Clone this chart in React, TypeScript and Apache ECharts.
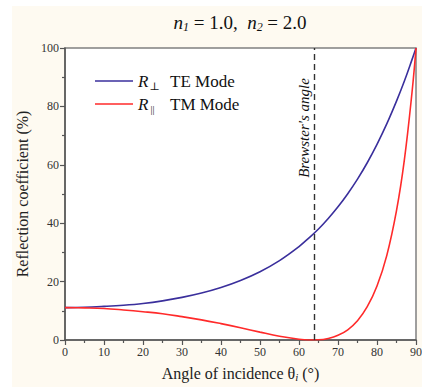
import React, { useEffect, useRef } from "react";
import * as echarts from "echarts";

// Angle of incidence (degrees)
const angles = [0, 5, 10, 15, 20, 25, 30, 35, 40, 45, 50, 55, 60, 62.5, 65, 67.5, 70, 72.5, 75, 77.5, 80, 82.5, 85, 87, 89, 90];
// Reflection coefficient (%) – TE mode (R perpendicular)
const teValues = [11.1, 11.2, 11.5, 11.9, 12.5, 13.4, 14.6, 16.1, 18.0, 20.4, 23.4, 27.2, 32.0, 34.9, 38.0, 41.6, 45.6, 50.1, 55.1, 60.7, 67.0, 74.0, 81.8, 88.6, 96.1, 100];
// Reflection coefficient (%) – TM mode (R parallel)
const tmValues = [11.1, 11.0, 10.8, 10.3, 9.7, 9.0, 8.0, 6.9, 5.6, 4.2, 2.7, 1.3, 0.27, 0.02, 0.07, 0.54, 1.6, 3.5, 6.6, 11.4, 18.5, 28.9, 44.3, 61.5, 85.1, 100];
const brewsterAngle = 64;
const legendNames = ["TE Mode", "TM Mode"];

const SERIF = "'Liberation Serif', 'DejaVu Serif', serif";
const TE_COLOR = "#3a2f9c";
const TM_COLOR = "#ff2a2a";

export default function App() {
  const ref = useRef<HTMLDivElement>(null);
  useEffect(() => {
    if (!ref.current) return;
    const chart = echarts.init(ref.current, undefined, { renderer: "svg" });
    const te = angles.map((a, i) => [a, teValues[i]]);
    const tm = angles.map((a, i) => [a, tmValues[i]]);
    const axisCommon = {
      axisLine: { show: true, lineStyle: { color: "#555", width: 1.5 } },
      axisTick: { show: true, inside: false, length: 5, lineStyle: { color: "#555", width: 1.2 } },
      minorTick: { show: true, splitNumber: 2, length: 3, lineStyle: { color: "#555", width: 1.2 } },
      splitLine: { show: false },
      axisLabel: { color: "#333", fontFamily: SERIF, fontSize: 12, margin: 6 },
    };
    chart.setOption({
      animation: false,
      backgroundColor: "transparent",
      grid: {
        left: 65,
        top: 48,
        right: 6,
        bottom: 47,
        outerBoundsMode: "none",
        containLabel: false,
        show: true,
        backgroundColor: "#ffffff",
        borderColor: "#808080",
        borderWidth: 1.5,
      },
      xAxis: {
        type: "value",
        min: 0,
        max: 90,
        interval: 10,
        ...axisCommon,
        name: "{t|Angle of incidence θ}{s|i}{t| (°)}",
        nameLocation: "middle",
        nameGap: 25,
        nameTextStyle: {
          rich: {
            t: { fontFamily: SERIF, fontSize: 16, color: "#222" },
            s: { fontFamily: SERIF, fontSize: 11, fontStyle: "italic", color: "#222", padding: [6, 0, 0, 0] },
          },
        },
      },
      yAxis: {
        type: "value",
        min: 0,
        max: 100,
        interval: 20,
        ...axisCommon,
        name: "Reflection coefficient (%)",
        nameLocation: "middle",
        nameGap: 33,
        nameTextStyle: { fontFamily: SERIF, fontSize: 16, color: "#222" },
      },
      series: [
        {
          name: legendNames[0],
          type: "line",
          data: te,
          smooth: 0.4,
          showSymbol: false,
          lineStyle: { color: TE_COLOR, width: 1.6 },
          z: 3,
        },
        {
          name: legendNames[1],
          type: "line",
          data: tm,
          smooth: 0.4,
          showSymbol: false,
          lineStyle: { color: TM_COLOR, width: 1.6 },
          z: 4,
          markLine: {
            silent: true,
            symbol: "none",
            label: { show: false },
            lineStyle: { color: "#333", type: [6, 4], width: 1.4 },
            data: [{ xAxis: brewsterAngle }],
          },
        },
      ],
      graphic: [
        {
          type: "text",
          x: 240,
          y: 22,
          style: {
            text: "{i|n}{s|1}{t| = 1.0,  }{i|n}{s|2}{t| = 2.0}",
            align: "center",
            verticalAlign: "middle",
            rich: {
              i: { fontFamily: SERIF, fontSize: 19, fontStyle: "italic", fill: "#111" },
              s: { fontFamily: SERIF, fontSize: 12, fontStyle: "italic", fill: "#111", padding: [9, 0, 0, 0] },
              t: { fontFamily: SERIF, fontSize: 19, fill: "#111" },
            },
          },
        },
        {
          type: "line",
          shape: { x1: 95, y1: 81, x2: 133, y2: 81 },
          style: { stroke: TE_COLOR, lineWidth: 1.6 },
        },
        {
          type: "line",
          shape: { x1: 95, y1: 104, x2: 133, y2: 104 },
          style: { stroke: TM_COLOR, lineWidth: 1.6 },
        },
        {
          type: "text",
          x: 138,
          y: 81,
          style: {
            text: "{i|R}{s|⊥}",
            verticalAlign: "middle",
            rich: {
              i: { fontFamily: SERIF, fontSize: 17, fontStyle: "italic", fill: "#111" },
              s: { fontFamily: SERIF, fontSize: 11, fill: "#111", padding: [10, 0, 0, 1] },
            },
          },
        },
        {
          type: "text",
          x: 138,
          y: 104,
          style: {
            text: "{i|R}{s|||}",
            verticalAlign: "middle",
            rich: {
              i: { fontFamily: SERIF, fontSize: 17, fontStyle: "italic", fill: "#111" },
              s: { fontFamily: SERIF, fontSize: 10, fill: "#111", padding: [10, 0, 0, 2] },
            },
          },
        },
        {
          type: "text",
          x: 170,
          y: 81,
          style: { text: legendNames[0], fontFamily: SERIF, fontSize: 17, fill: "#111", verticalAlign: "middle" },
        },
        {
          type: "text",
          x: 170,
          y: 104,
          style: { text: legendNames[1], fontFamily: SERIF, fontSize: 17, fill: "#111", verticalAlign: "middle" },
        },
        {
          type: "text",
          x: 304,
          y: 128,
          rotation: Math.PI / 2,
          style: {
            text: "Brewster's angle",
            fontFamily: SERIF,
            fontSize: 15,
            fontStyle: "italic",
            fill: "#111",
            align: "center",
            verticalAlign: "middle",
          },
        },
      ],
    });
    return () => chart.dispose();
  }, []);
  return (
    <div style={{ position: "fixed", left: 0, top: 0, width: 422, height: 387, background: "#ffffff" }}>
      <div style={{ position: "absolute", left: 12, top: 6, right: 0, bottom: 0, background: "#fefaf1" }} />
      <div ref={ref} style={{ position: "absolute", left: 0, top: 0, width: 422, height: 387 }} />
    </div>
  );
}
